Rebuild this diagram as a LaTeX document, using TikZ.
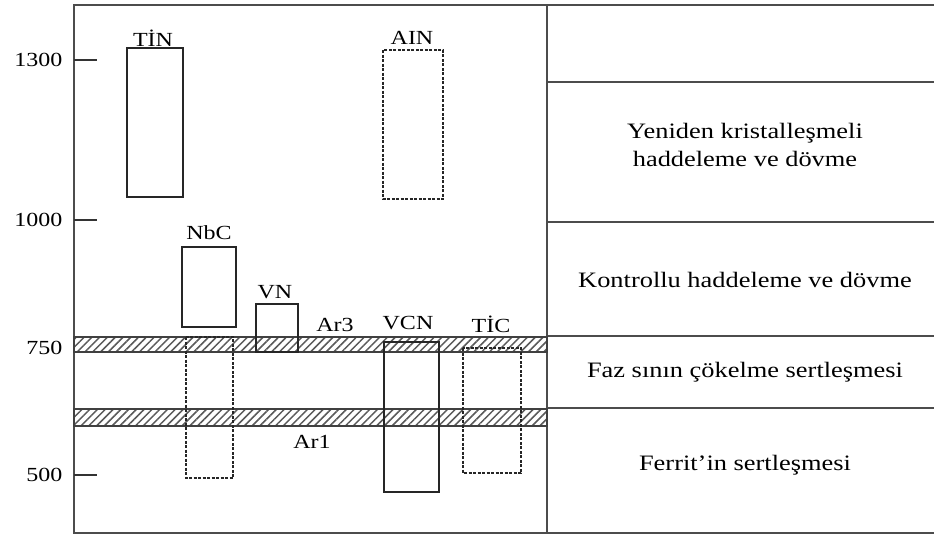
\documentclass[tikz,border=0pt]{standalone}
\usepackage{fontspec}
\setmainfont{Liberation Serif}[FakeStretch=1.2]
\usetikzlibrary{patterns.meta}

\begin{document}
\begin{tikzpicture}[x=1pt, y=-1pt, line width=1.2pt,
  every node/.style={font=\fontsize{20}{24}\selectfont, inner sep=0pt},
  band/.style={draw=black!75, preaction={fill=white}, pattern={Lines[angle=45,distance=5.5pt,line width=1.5pt]}, pattern color=black!65},
  solidbox/.style={draw=black!85},
  dashbox/.style={draw=black!85, dash pattern=on 3pt off 1.5pt},
  zone/.style={font=\fontsize{22}{28}\selectfont, align=center}]
\useasboundingbox (0,0) rectangle (934,538);
% frame and zone table
\draw[black!70, line width=1.5pt] (934,5) -- (74,5) -- (74,533) -- (934,533);
\draw[black!70, line width=1.5pt] (547,5) -- (547,533);
\foreach \yy in {82,222,336,408}
  \draw[black!70] (547,\yy) -- (934,\yy);
% axis ticks
\foreach \yy/\txt in {60/1300,220/1000,348/750,475/500} {
  \draw[black!80] (74,\yy) -- (97,\yy);
  \node[anchor=east] (t\txt) at (63,\yy) {\txt};
}
% critical temperature bands
\draw[band] (74,337) rectangle (547,352);
\draw[band] (74,409) rectangle (547,426);
% precipitate ranges
\draw[solidbox] (127,48) rectangle (183,197);
\draw[dashbox] (383,50) rectangle (443,199);
\draw[solidbox] (182,247) rectangle (236,327);
\draw[dashbox] (186,337) rectangle (233,478);
\draw[solidbox] (256,304) rectangle (298,352);
\draw[solidbox] (384,342) rectangle (439,492);
\draw[dashbox] (463,348) rectangle (521,473);
% labels
\node (tin) at (153,38) {TİN};
\node (aln) at (412,38) {AIN};
\node (nbc) at (209,233) {NbC};
\node (vn) at (275,292) {VN};
\node (ar3) at (335,325) {Ar3};
\node (vcn) at (408,323) {VCN};
\node (tic) at (491,324) {TİC};
\node (ar1) at (312,442) {Ar1};
% zone texts
\node[zone] (z1) at (745,145) {Yeniden kristalleşmeli\\haddeleme ve dövme};
\node[zone] (z2) at (745,280) {Kontrollu haddeleme ve dövme};
\node[zone] (z3) at (745,372) {Faz sının çökelme sertleşmesi};
\node[zone] (z4) at (745,465) {Ferrit'in sertleşmesi};
\end{tikzpicture}
\end{document}
